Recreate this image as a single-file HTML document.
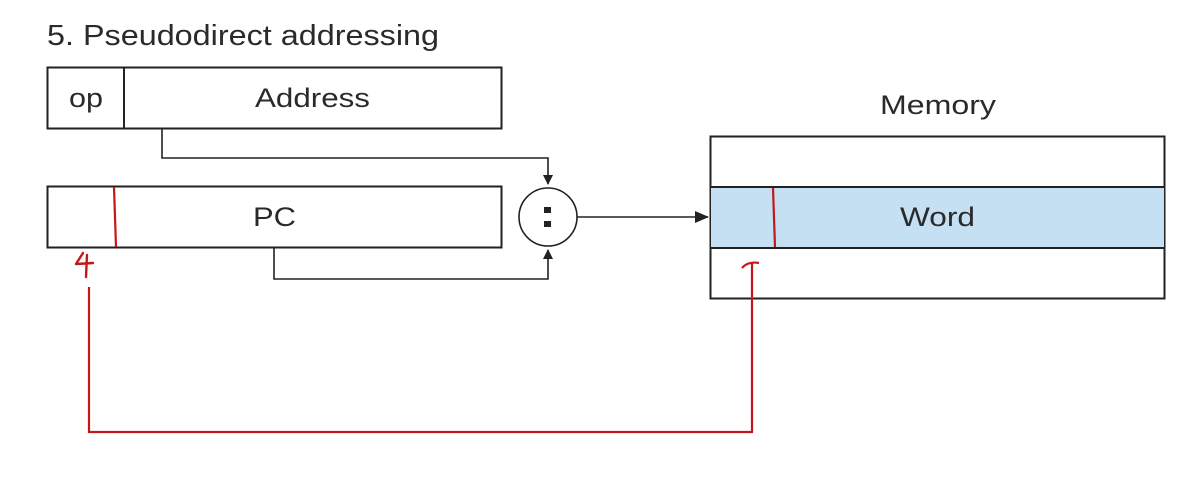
<!DOCTYPE html>
<html><head><meta charset="utf-8"><style>
html,body{margin:0;padding:0;background:#fff;}
svg{display:block;}
text{font-family:"Liberation Sans",sans-serif;fill:#2a2a2a;}
</style></head><body>
<svg width="1188" height="502" viewBox="0 0 1188 502" xmlns="http://www.w3.org/2000/svg">
<defs>
<marker id="ar" markerWidth="10" markerHeight="10" refX="9" refY="5" orient="auto" markerUnits="userSpaceOnUse">
<path d="M0,0 L10,5 L0,10 z" fill="#222"/></marker>
<marker id="ar2" markerWidth="14" markerHeight="12" refX="13" refY="6" orient="auto" markerUnits="userSpaceOnUse">
<path d="M0,0 L14,6 L0,12 z" fill="#222"/></marker>
</defs>
<text x="47" y="45" font-size="29" textLength="392" lengthAdjust="spacingAndGlyphs">5.  Pseudodirect addressing</text>
<!-- instruction -->
<rect x="47.5" y="67.5" width="454" height="61" fill="#fff" stroke="#222" stroke-width="2"/>
<line x1="124" y1="67" x2="124" y2="129" stroke="#222" stroke-width="2"/>
<text x="69" y="107" font-size="27" textLength="34" lengthAdjust="spacingAndGlyphs">op</text>
<text x="255" y="107" font-size="27" textLength="115" lengthAdjust="spacingAndGlyphs">Address</text>
<!-- PC -->
<rect x="47.5" y="186.5" width="454" height="61" fill="#fff" stroke="#222" stroke-width="2"/>
<text x="253" y="226" font-size="27" textLength="43" lengthAdjust="spacingAndGlyphs">PC</text>
<path d="M114,187 L116,247" stroke="#c41818" stroke-width="2.2" fill="none"/>
<path d="M83,253 L76,264 L93,263 M87,255 L86,277" stroke="#c41818" stroke-width="2.4" fill="none" stroke-linecap="round" stroke-linejoin="round"/>
<!-- connectors -->
<path d="M162,129 V158 H548 V184" stroke="#222" stroke-width="1.6" fill="none" marker-end="url(#ar)"/>
<path d="M274,248 V279 H548 V250" stroke="#222" stroke-width="1.6" fill="none" marker-end="url(#ar)"/>
<circle cx="548" cy="217" r="29" fill="#fff" stroke="#222" stroke-width="1.6"/>
<rect x="544" y="207" width="7" height="6" fill="#222"/>
<rect x="544" y="221" width="7" height="6" fill="#222"/>
<line x1="577" y1="217" x2="708" y2="217" stroke="#222" stroke-width="1.6" marker-end="url(#ar2)"/>
<!-- memory -->
<text x="880" y="114" font-size="27" textLength="116" lengthAdjust="spacingAndGlyphs">Memory</text>
<rect x="710.5" y="136.5" width="454" height="162" fill="#fff" stroke="#222" stroke-width="2"/>
<rect x="711" y="187" width="453" height="61" fill="#c5dff3"/>
<line x1="710" y1="187" x2="1165" y2="187" stroke="#222" stroke-width="2"/>
<line x1="710" y1="248" x2="1165" y2="248" stroke="#222" stroke-width="2"/>
<text x="900" y="226" font-size="27" textLength="75" lengthAdjust="spacingAndGlyphs">Word</text>
<path d="M773,188 L775,247" stroke="#c41818" stroke-width="2.2" fill="none"/>
<!-- red path -->
<path d="M89,287 V432 H752 V262" stroke="#c41818" stroke-width="2.2" fill="none"/>
<path d="M742,268 Q748,261 759,263" stroke="#c41818" stroke-width="2.2" fill="none"/>
</svg>
</body></html>
